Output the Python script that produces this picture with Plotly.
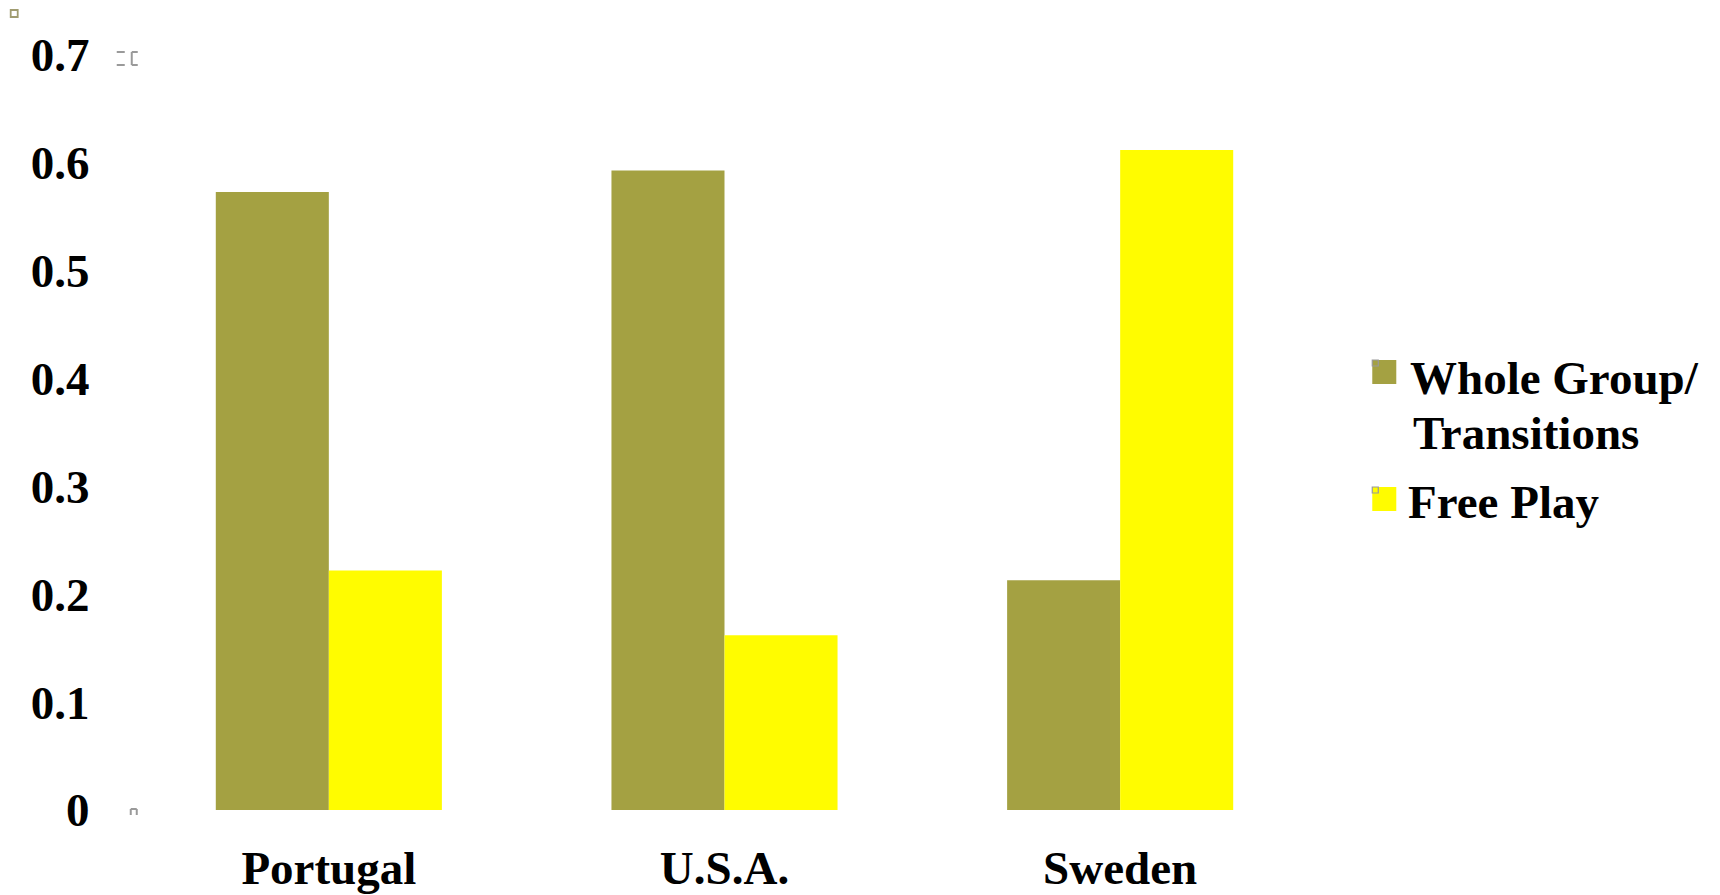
import plotly.graph_objects as go

# ---- data ----
categories = ["Portugal", "U.S.A.", "Sweden"]
whole_group = [0.573, 0.593, 0.213]
free_play = [0.222, 0.162, 0.612]
series_names = ["Whole Group/ Transitions", "Free Play"]
legend_lines = [["Whole Group/", "Transitions"], ["Free Play"]]
y_tick_values = [0, 0.1, 0.2, 0.3, 0.4, 0.5, 0.6, 0.7]
y_tick_labels = ["0", "0.1", "0.2", "0.3", "0.4", "0.5", "0.6", "0.7"]

# ---- style ----
OLIVE = "#A4A142"
YELLOW = "#FFFC00"
FONT = "Liberation Serif"
FS = 47
W, H = 1720, 895
OFF = 8  # page body margin
# plot-area edges in screenshot pixels
L, R, T, B = 131.25, 1317.75, 55, 810


def px_x(x):
    return (x - L) / (R - L)


def px_y(y):
    return (B - y) / (B - T)


fig = go.Figure()
fig.add_trace(go.Bar(x=categories, y=whole_group, name=series_names[0],
                     marker=dict(color=OLIVE, line=dict(width=0))))
fig.add_trace(go.Bar(x=categories, y=free_play, name=series_names[1],
                     marker=dict(color=YELLOW, line=dict(width=0))))

fig.update_layout(
    width=W, height=H,
    margin=dict(l=L - OFF, r=W - (R - OFF), t=T - OFF, b=H - (B - OFF), pad=0,
                autoexpand=False),
    paper_bgcolor="white", plot_bgcolor="white",
    barmode="group", bargap=0.4286, bargroupgap=0,
    showlegend=False,
    font=dict(family=FONT, size=FS, color="black"),
)
fig.update_xaxes(
    automargin=False,
    showgrid=False, zeroline=False, showline=False,
    ticks="outside", ticklen=17, tickcolor="rgba(0,0,0,0)",
    tickfont=dict(family=FONT, size=FS, color="black", weight="bold"),
)
fig.update_yaxes(
    automargin=False,
    range=[0, 0.7], showgrid=False, zeroline=False, showline=False,
    tickmode="array", tickvals=y_tick_values, ticktext=y_tick_labels,
    ticks="outside", ticklen=31, tickcolor="rgba(0,0,0,0)",
    tickfont=dict(family=FONT, size=FS, color="black", weight="bold"),
)

# ---- custom legend (large square swatches) ----
swatches = [(1372, 360, OLIVE), (1372, 487, YELLOW)]
shapes = []
for (sx, sy, col) in swatches:
    shapes.append(dict(type="rect", xref="paper", yref="paper",
                       x0=px_x(sx), x1=px_x(sx + 24), y0=px_y(sy), y1=px_y(sy + 24),
                       fillcolor=col, line=dict(width=0), layer="above"))
    shapes.append(dict(type="rect", xref="paper", yref="paper",
                       x0=px_x(sx), x1=px_x(sx + 6), y0=px_y(sy), y1=px_y(sy + 6),
                       fillcolor="rgba(0,0,0,0)", line=dict(width=1.2, color="#999999"),
                       layer="above"))
# small artefact marks
shapes.append(dict(type="rect", xref="paper", yref="paper",
                   x0=px_x(11), x1=px_x(18), y0=px_y(10), y1=px_y(17),
                   fillcolor="white", line=dict(width=1.8, color="#A09C70"), layer="above"))
for (x0, y0, x1, y1) in [(117, 52, 125, 52), (117, 65, 125, 65), (132, 52, 138, 52),
                         (132, 52, 132, 65), (132, 65, 138, 65),
                         (131, 815, 131, 809), (131, 809, 137, 809), (137, 809, 137, 815)]:
    shapes.append(dict(type="line", xref="paper", yref="paper",
                       x0=px_x(x0), x1=px_x(x1), y0=px_y(y0), y1=px_y(y1),
                       line=dict(width=2, color="#9A9A9A"), layer="above"))
fig.update_layout(shapes=shapes)

text_rows = [(1408, 378, legend_lines[0][0]), (1411, 433, legend_lines[0][1]),
             (1406, 502, legend_lines[1][0])]
for (tx, ty, txt) in text_rows:
    fig.add_annotation(xref="paper", yref="paper", x=px_x(tx), y=px_y(ty),
                       xanchor="left", yanchor="middle", showarrow=False,
                       text=txt, font=dict(family=FONT, size=FS, color="black", weight="bold"))

fig.write_html("out.html")
